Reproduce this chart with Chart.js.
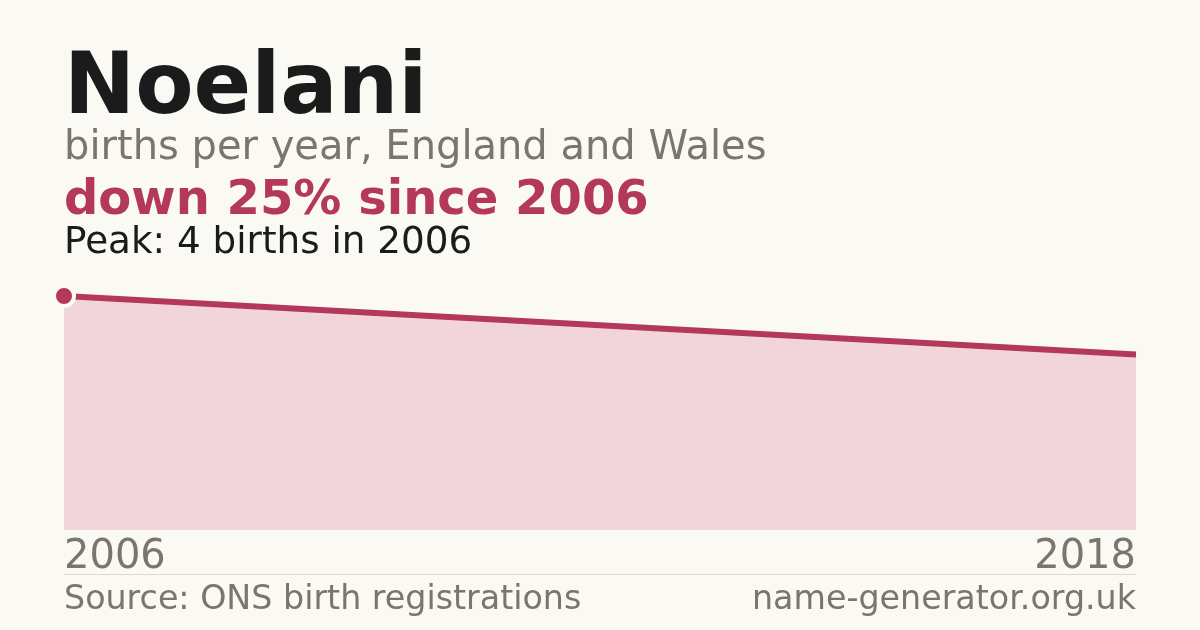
<!DOCTYPE html>
<html>
<head>
<meta charset="utf-8">
<script src="https://cdn.jsdelivr.net/npm/chart.js@4"></script>
<style>
  html, body { margin: 0; padding: 0; background: #faf9f4; }
  #wrap { position: relative; width: 1200px; height: 630px; overflow: hidden; font-family: "DejaVu Sans", sans-serif; }
  .t { position: absolute; line-height: 1; white-space: nowrap; }
  #title { left: 64px; top: 41px; font-size: 85px; font-weight: bold; color: #1b1b1b; }
  #sub { left: 64px; top: 125px; font-size: 40px; color: #7a756e; }
  #change { left: 64px; top: 173px; font-size: 48px; font-weight: bold; color: #b3385a; }
  #peak { left: 64px; top: 222px; font-size: 37.3px; color: #1b1b1b; }
  #rule { position: absolute; left: 64px; top: 574px; width: 1072px; height: 1px; background: #dddad3; }
  #src { left: 64px; top: 581px; font-size: 33.3px; color: #7a756e; }
  #site { right: 64px; top: 581px; font-size: 33.3px; color: #7a756e; }
  canvas { position: absolute; left: 0; top: 0; }
</style>
</head>
<body>
<div id="wrap">
  <canvas id="mycanvas" width="1200" height="630"></canvas>
  <div class="t" id="title">Noelani</div>
  <div class="t" id="sub">births per year, England and Wales</div>
  <div class="t" id="change">down 25% since 2006</div>
  <div class="t" id="peak">Peak: 4 births in 2006</div>
  <div id="rule"></div>
  <div class="t" id="src">Source: ONS birth registrations</div>
  <div class="t" id="site">name-generator.org.uk</div>
</div>
<script>
var years = ['2006', '2018'];
var births = [4, 3];
var peakRadius = [10, 0];

var red = '#b3385a';

var ctx = document.getElementById('mycanvas');

var chart = new Chart(ctx, {
	type: 'line',
	data: {
		labels: years,
		datasets: [{
			data: births,
			borderColor: red,
			borderWidth: 6,
			backgroundColor: '#f2d5da',
			fill: 'origin',
			tension: 0,
			pointRadius: peakRadius,
			pointBackgroundColor: red,
			pointBorderColor: '#faf9f4',
			pointBorderWidth: 4
		}]
	},
	options: {
		responsive: false,
		animation: false,
		events: [],
		layout: { padding: { left: 64, right: 64, top: 272.6, bottom: 0 } },
		plugins: { legend: { display: false }, tooltip: { enabled: false } },
		scales: {
			x: {
				offset: false,
				grid: { display: false, drawTicks: false },
				border: { display: false },
				ticks: {
					align: 'inner',
					maxRotation: 0,
					autoSkip: false,
					padding: 4,
					color: '#7a756e',
					font: { family: 'DejaVu Sans', size: 40 }
				},
				afterFit: function(axis) { axis.height = 100; }
			},
			y: {
				display: false,
				min: 0,
				max: 4.4
			}
		}
	}
});
</script>
</body>
</html>
